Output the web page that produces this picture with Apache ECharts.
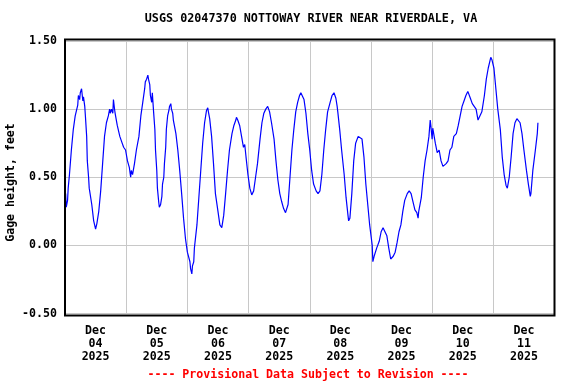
<!DOCTYPE html>
<html>
<head>
<meta charset="utf-8">
<script src="https://cdn.jsdelivr.net/npm/echarts@6/dist/echarts.min.js"></script>
<style>
html,body{margin:0;padding:0;background:#fff;}
#chart{width:576px;height:384px;}
</style>
</head>
<body>
<div id="chart"></div>
<script>
var titleText = 'USGS 02047370 NOTTOWAY RIVER NEAR RIVERDALE, VA';
var footerText = '---- Provisional Data Subject to Revision ----';
var yAxisTitle = 'Gage height, feet';
var dayLabels = ['Dec\n04\n2025','Dec\n05\n2025','Dec\n06\n2025','Dec\n07\n2025','Dec\n08\n2025','Dec\n09\n2025','Dec\n10\n2025','Dec\n11\n2025'];
var yTicks = [-0.5, 0, 0.5, 1.0, 1.5];

// hours since 2025-12-04 00:00
var hours = [0.25,0.5,1,1.25,1.75,2.5,3.25,4,5,5.25,5.75,6,6.5,7,7.25,7.75,8,8.5,8.75,9.25,9.5,10.5,11.25,12,12.5,13.25,14,14.75,15.5,16.25,17,17.5,17.75,18.25,18.75,19,19.5,19.75,20.5,21.5,22.25,23,23.75,24.5,25.25,25.75,26,26.5,27.25,28,29,29.75,30.5,31.25,31.5,32,32.5,32.75,33.25,33.5,34,34.25,34.75,35.25,35.5,36,36.25,36.75,37,37.5,38,38.25,38.75,39,39.5,39.75,40.25,40.75,41,41.5,41.75,42.25,42.5,43.5,44.25,45,45.75,46.5,47.25,48,49,49.25,49.75,50,50.5,50.75,51.75,52.5,53.25,54,54.75,55.25,55.5,56,56.25,56.75,57.5,58.25,59,60,60.75,61.5,62.25,63,63.75,64.5,65.5,66.25,67,67.25,67.75,68.5,69.25,70,70.5,71,71.75,72.5,73.25,74,74.75,75.5,76.5,77.25,78,78.75,79.5,80.25,81,82,82.75,83.5,84.25,85,85.75,86.5,87.5,88.25,89,89.75,90.5,91.25,92,92.5,93,93.75,94.5,95.25,96,96.75,97.5,98.5,99.25,99.5,100,100.75,101.5,102.25,103,104,104.75,105.5,106.25,106.75,107,107.75,108.5,109.5,110.25,111,111.25,111.75,112.5,113.25,114,115,115.75,116.5,117.25,118,118.75,119.5,120.5,120.75,121.25,121.5,122.25,123.25,124,124.75,125.5,126.25,127,127.75,128.75,129.5,130.25,131,131.75,132.5,133.25,134.25,135,135.75,136.5,137.25,138,138.5,138.75,139.75,140.5,141.25,142,142.75,143.25,143.5,144,144.25,145.25,146,146.75,147.5,148.25,148.75,149.5,150.25,151,151.75,152.5,153.5,154.25,155,155.75,156.5,157.25,158,159,159.75,160.5,161.25,162,162.75,163.5,164.5,165.25,166,166.75,167,167.5,168.25,169,169.75,170.75,171.5,172.25,173,173.5,174.25,175,175.75,176.5,177.25,177.75,178.5,179.25,180,181,181.75,182.5,182.75,183.5,184.5,185.25,185.5];
var gageHeight = [0.38,0.28,0.33,0.42,0.52,0.70,0.85,0.95,1.03,1.10,1.07,1.12,1.15,1.06,1.09,1.02,0.95,0.80,0.62,0.50,0.42,0.30,0.18,0.12,0.16,0.25,0.40,0.60,0.80,0.90,0.95,1.00,0.97,1.00,0.97,1.07,0.99,0.96,0.88,0.80,0.76,0.72,0.70,0.62,0.57,0.50,0.55,0.52,0.60,0.70,0.80,0.95,1.05,1.15,1.20,1.22,1.25,1.22,1.18,1.10,1.05,1.12,0.98,0.85,0.70,0.55,0.42,0.32,0.28,0.30,0.36,0.45,0.50,0.60,0.72,0.85,0.95,0.99,1.02,1.04,1.00,0.97,0.92,0.82,0.70,0.55,0.38,0.20,0.05,-0.05,-0.12,-0.17,-0.21,-0.15,-0.12,-0.02,0.15,0.35,0.55,0.75,0.90,0.96,0.99,1.01,0.98,0.93,0.80,0.60,0.38,0.25,0.15,0.13,0.22,0.38,0.55,0.70,0.82,0.88,0.92,0.94,0.92,0.88,0.80,0.72,0.74,0.65,0.52,0.42,0.37,0.40,0.50,0.60,0.78,0.90,0.97,1.00,1.02,0.98,0.90,0.78,0.62,0.48,0.38,0.32,0.27,0.24,0.30,0.50,0.70,0.85,0.98,1.05,1.10,1.12,1.11,1.07,0.97,0.82,0.70,0.55,0.45,0.40,0.38,0.37,0.40,0.52,0.70,0.85,0.98,1.05,1.10,1.12,1.08,1.02,0.98,0.85,0.70,0.52,0.35,0.22,0.18,0.20,0.38,0.62,0.75,0.80,0.81,0.78,0.65,0.45,0.30,0.15,0.00,-0.12,-0.08,-0.07,-0.02,0.03,0.10,0.13,0.10,0.07,-0.02,-0.10,-0.08,-0.05,0.02,0.10,0.15,0.25,0.33,0.38,0.40,0.38,0.32,0.26,0.24,0.20,0.25,0.35,0.50,0.62,0.70,0.80,0.92,0.88,0.78,0.86,0.75,0.68,0.70,0.62,0.58,0.57,0.60,0.62,0.70,0.72,0.80,0.82,0.88,0.95,1.02,1.06,1.10,1.13,1.08,1.04,1.05,1.00,0.92,0.92,0.98,1.10,1.22,1.30,1.36,1.38,1.36,1.30,1.15,1.00,0.85,0.65,0.52,0.44,0.42,0.50,0.65,0.82,0.90,0.93,0.94,0.90,0.82,0.70,0.55,0.45,0.36,0.38,0.55,0.70,0.82,0.90];

var seriesData = hours.map(function (h, i) { return [h, gageHeight[i]]; });
var FONT = '"DejaVu Sans Mono", "Liberation Mono", monospace';

var chart = echarts.init(document.getElementById('chart'), null, {renderer: 'canvas'});
chart.setOption({
  animation: false,
  backgroundColor: '#ffffff',
  title: [{
    text: titleText,
    left: 311, top: 13, textAlign: 'center', padding: 0,
    textStyle: {fontFamily: FONT, fontWeight: 'bold', fontSize: 11.75, color: '#000'}
  }, {
    text: footerText,
    left: 308, top: 369, textAlign: 'center', padding: 0,
    textStyle: {fontFamily: FONT, fontWeight: 'bold', fontSize: 11.6, color: '#ff0000'}
  }],
  grid: {left: 65, right: 21.5, top: 41, bottom: 70.5, containLabel: false},
  xAxis: [{
    type: 'value', min: 0, max: 192, interval: 24,
    axisLine: {show: false}, axisTick: {show: false}, axisLabel: {show: false},
    splitLine: {show: true, lineStyle: {color: '#c8c8c8', width: 1}}
  }, {
    type: 'category', data: dayLabels, boundaryGap: true, position: 'bottom',
    axisLine: {show: false}, axisTick: {show: false}, splitLine: {show: false},
    axisLabel: {interval: 0, margin: 11, lineHeight: 12.8, fontFamily: FONT, fontWeight: 'bold', fontSize: 11.6, color: '#000'}
  }],
  yAxis: {
    type: 'value', min: yTicks[0], max: yTicks[yTicks.length - 1], interval: 0.5,
    axisLine: {show: false}, axisTick: {show: false},
    axisLabel: {margin: 8, padding: [4, 0, 0, 0], fontFamily: FONT, fontWeight: 'bold', fontSize: 11.6, color: '#000',
      formatter: function (v) { return v.toFixed(2); }},
    splitLine: {show: true, lineStyle: {color: '#c8c8c8', width: 1}}
  },
  graphic: [{
    type: 'rect', silent: true, z: 100,
    shape: {x: 65, y: 39.5, width: 489.5, height: 276},
    style: {fill: null, stroke: '#000', lineWidth: 2}
  }, {
    type: 'text', silent: true, x: 11, y: 182.5, rotation: Math.PI / 2,
    style: {text: yAxisTitle, fontFamily: FONT, fontWeight: 'bold', fontSize: 11.6, fill: '#000',
      textAlign: 'center', textVerticalAlign: 'middle'}
  }],
  series: [{
    type: 'line', xAxisIndex: 0, data: seriesData, showSymbol: false,
    lineStyle: {color: '#0000ff', width: 1.2}, itemStyle: {color: '#0000ff'}
  }]
});
</script>
</body>
</html>
